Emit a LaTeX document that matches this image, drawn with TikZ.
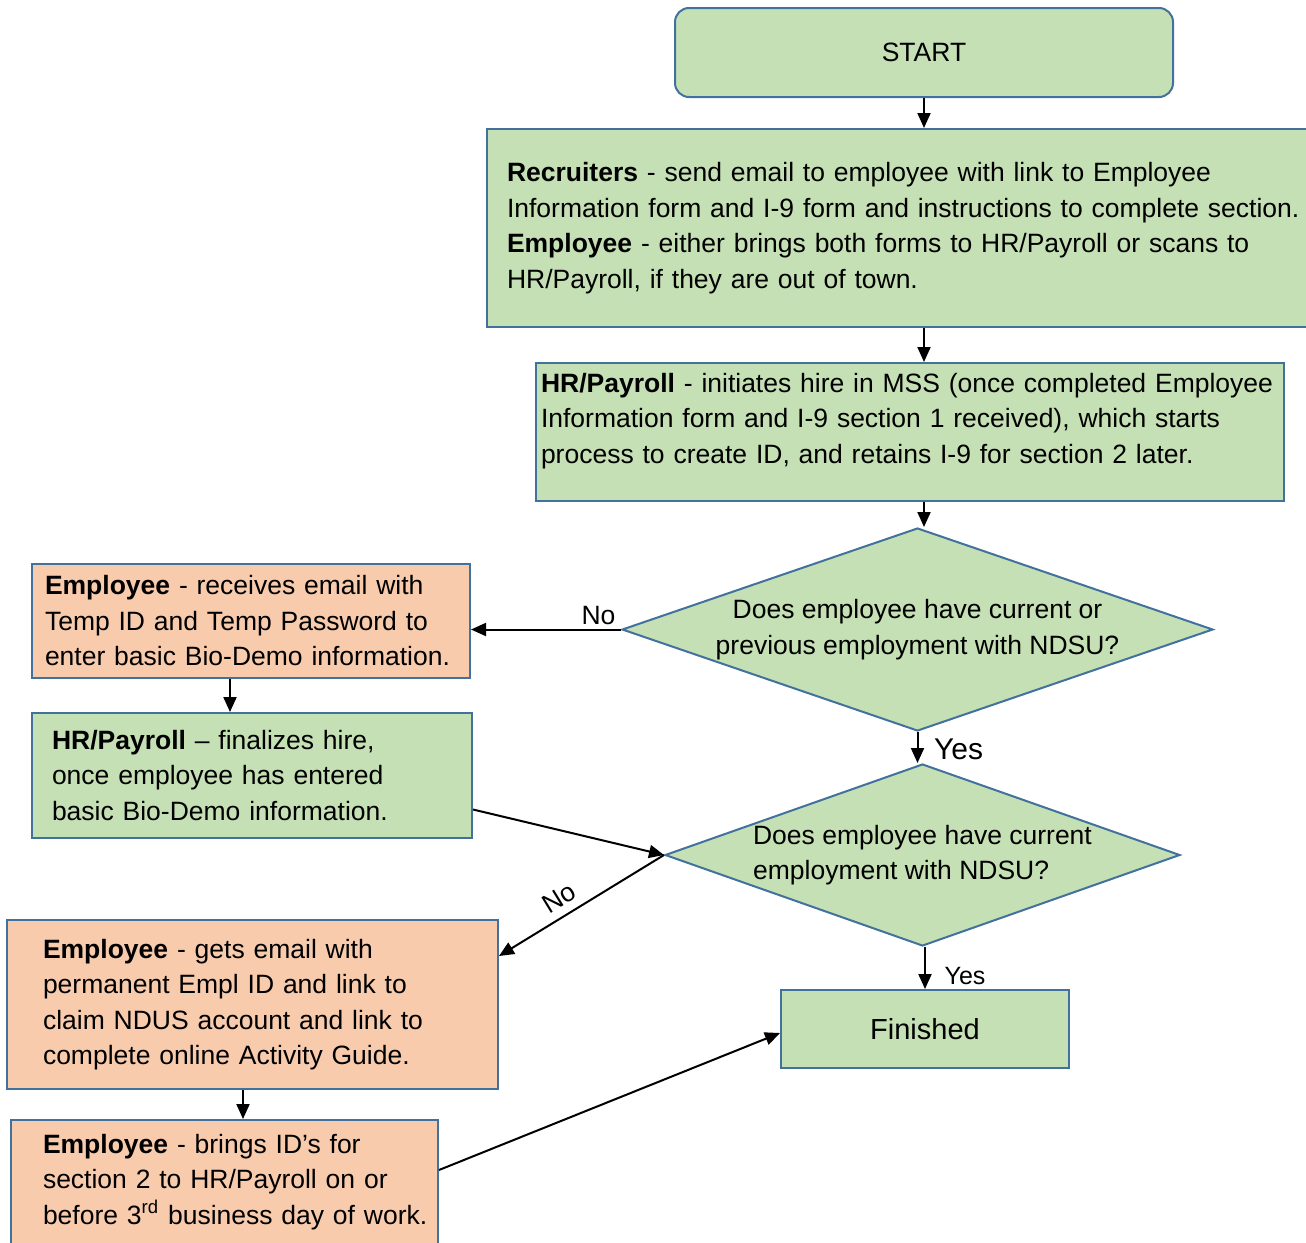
\documentclass[tikz,border=0pt]{standalone}
\usepackage{fontspec}
\setmainfont{Liberation Sans}
\usetikzlibrary{arrows.meta,shapes.geometric}
\definecolor{stepgreen}{HTML}{C5E0B4}
\definecolor{steporange}{HTML}{F8CBAD}
\definecolor{stepline}{HTML}{41719C}
\begin{document}
\begin{tikzpicture}[x=0.5pt,y=-0.5pt,
    font=\fontsize{13.25pt}{17.75pt}\selectfont,
    every path/.style={line width=1pt},
    go/.style={-{Triangle[length=7.5pt,width=6.5pt]}},
    box/.style={draw=stepline, line width=1pt, inner xsep=0pt, inner ysep=2pt,
      align=left, text width=#1, minimum width=#1},
    pad/.style={execute at begin node={\setlength{\leftskip}{#1}}},
    greenbox/.style={box=#1, fill=stepgreen},
    orangebox/.style={box=#1, fill=steporange},
    decision/.style={diamond, draw=stepline, line width=1pt, fill=stepgreen,
      inner sep=0pt, align=center}]
  \useasboundingbox (0,0) rectangle (1306,1242);

  \node[draw=stepline, fill=stepgreen, rounded corners=7pt, minimum width=249pt,
    minimum height=44.5pt] (start) at (924,52.5) {START};
  \node[greenbox=411.5pt, pad=10pt, minimum height=99pt] (recruit) at (898.5,228)
    {\textbf{Recruiters} - send email to employee with link to Employee\\
     Information form and I-9 form and instructions to complete section.\\
     \textbf{Employee} - either brings both forms to HR/Payroll or scans to\\
     HR/Payroll, if they are out of town.};
  \node[greenbox=374pt, pad=2.5pt, minimum height=69pt] (hrinit) at (910,432)
    {\textbf{HR/Payroll} - initiates hire in MSS (once completed Employee\\
     Information form and I-9 section 1 received), which starts\\
     process to create ID, and retains I-9 for section 2 later.\\[-4pt]\mbox{}};
  \node[decision, aspect=2.91, minimum width=295.5pt, minimum height=101.5pt] (dia1) at (917.5,629.5)
    {Does employee have current or\\previous employment with NDSU?};
  \node[orangebox=219pt, pad=6.5pt, minimum height=57pt] (emp1) at (251,621)
    {\textbf{Employee} - receives email with\\
     Temp ID and Temp Password to\\
     enter basic Bio-Demo information.};
  \node[greenbox=220pt, pad=10pt, minimum height=62.5pt] (hrfin) at (252,775.5)
    {\textbf{HR/Payroll} – finalizes hire,\\
     once employee has entered\\
     basic Bio-Demo information.};
  \node[decision, align=left, aspect=2.83, minimum width=257.5pt, minimum height=91pt] (dia2) at (922.5,855)
    {Does employee have current\\employment with NDSU?};
  \node[draw=stepline, fill=stepgreen, minimum width=144pt, minimum height=39pt,
    font=\fontsize{14.5pt}{17pt}\selectfont] (finish) at (925,1029) {Finished};
  \node[orangebox=245.5pt, pad=18pt, minimum height=84.5pt] (emp2) at (252.5,1004.5)
    {\textbf{Employee} - gets email with\\
     permanent Empl ID and link to\\
     claim NDUS account and link to\\
     complete online Activity Guide.};
  \node[orangebox=213.5pt, pad=16pt, minimum height=62pt] (emp3) at (224.5,1182)
    {\textbf{Employee} - brings ID’s for\\
     section 2 to HR/Payroll on or\\
     before 3\textsuperscript{rd} business day of work.};

  \draw[go] (start.south) -- (start.south |- recruit.north);
  \draw[go] (start.south |- recruit.south) -- (start.south |- hrinit.north);
  \draw[go] (start.south |- hrinit.south) -- (start.south |- dia1.north);
  \draw[go] (dia1.west) -- node[pos=0.15, above, inner sep=2pt] {No} (dia1.west -| emp1.east);
  \draw[go] (dia1.south) -- node[pos=0.55, right, xshift=4.5pt,
    font=\fontsize{15pt}{17pt}\selectfont] {Yes} (dia1.south |- dia2.north);
  \draw[go] ([xshift=-10.5pt]emp1.south) -- ([xshift=-10.5pt]emp1.south |- hrfin.north);
  \draw[go] ([yshift=-17pt]hrfin.east) -- (dia2.west);
  \draw[go] (dia2.west) -- node[pos=0.58, sloped, above, inner sep=4pt] {No} ([yshift=-18.5pt]emp2.north east);
  \draw[go] (finish.north |- dia2.south) -- node[pos=0.68, right, xshift=6pt,
    font=\fontsize{12.5pt}{14pt}\selectfont] {Yes} (finish.north);
  \draw[go] ([xshift=-4.75pt]emp2.south) -- ([xshift=-4.75pt]emp2.south |- emp3.north);
  \draw[go] ([yshift=6pt]emp3.east) -- ([yshift=-2pt]finish.west);
\end{tikzpicture}
\end{document}
